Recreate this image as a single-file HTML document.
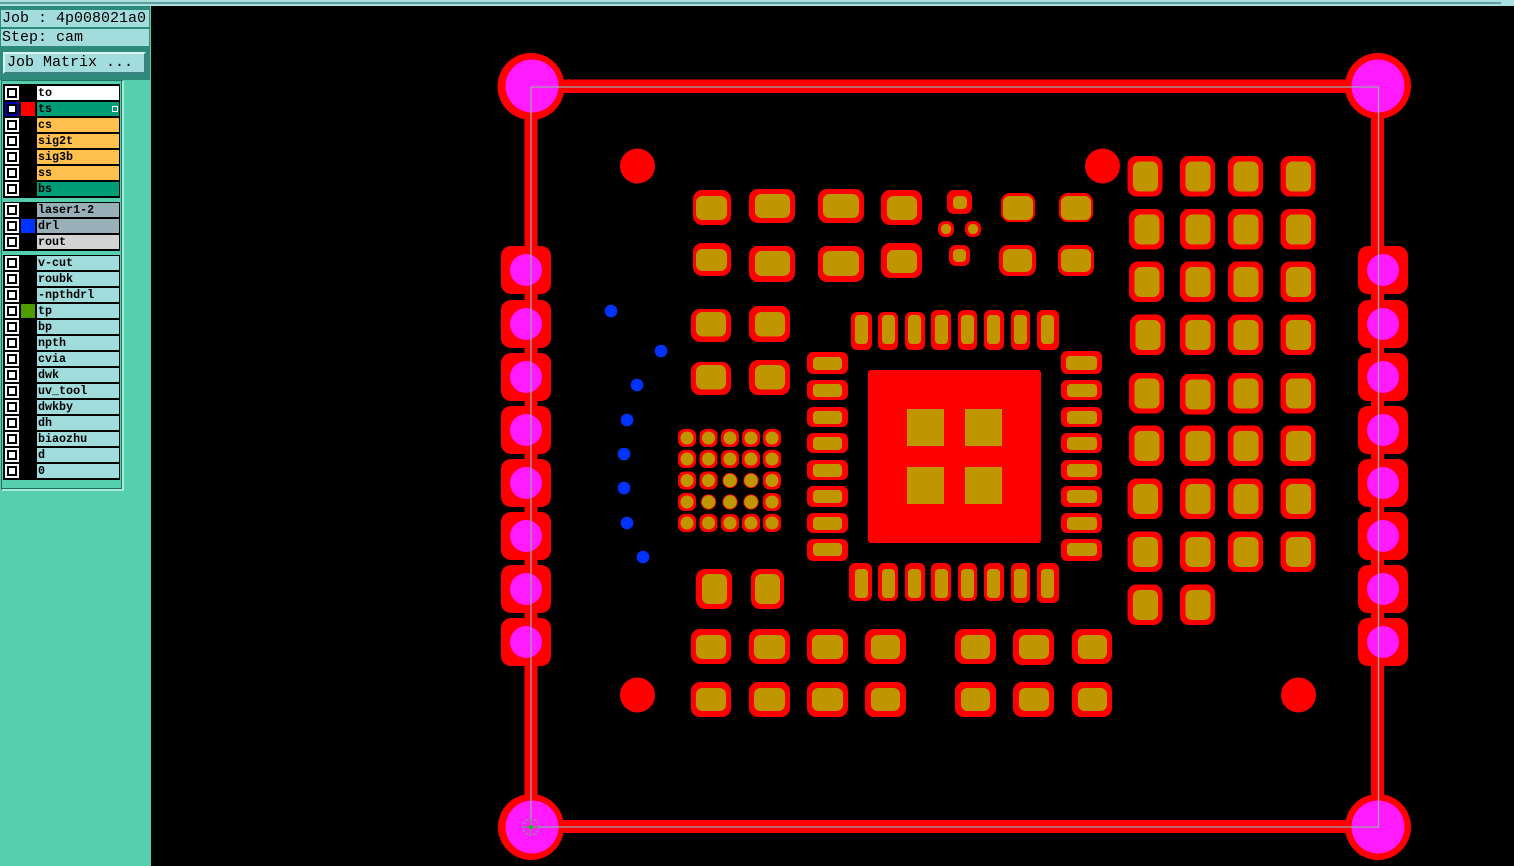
<!DOCTYPE html>
<html><head><meta charset="utf-8"><title>Job 4p008021a0</title>
<style>
html,body{margin:0;padding:0;width:1514px;height:866px;overflow:hidden;background:#000}
#left{position:absolute;left:0;top:0;width:151px;height:866px;background:#55cfae}
#topbar{position:absolute;left:0;top:0;width:1514px;height:6px;background:#a8e0e0}
#topbar div{position:absolute;left:0;top:2px;width:1501px;height:2px;background:#5f9c9c}
#head{position:absolute;left:0;top:6px;width:150px;height:74px;background:#2e8a7a}
.b{position:absolute;font:15px/17px "Liberation Mono",monospace;color:#000;background:#a3dcdc;white-space:pre;box-sizing:border-box}
#frame{position:absolute;left:1px;top:80px;width:123px;height:411px;background:#55cfae;border-top:1px solid #1f6e60;border-left:1px solid #1f6e60;border-right:2px solid #a8ecd8;border-bottom:2px solid #a8ecd8;box-shadow:inset -1px -1px 0 #1f6e60;box-sizing:border-box}
.g{position:absolute;left:3px;width:117px;background:#000}
.c{position:absolute;left:5px;width:14px;height:14px;background:#fff}
.c:after{content:"";position:absolute;left:2px;top:2px;width:6px;height:6px;border:2px solid #000;background:#fff}
.s{position:absolute;left:21px;width:14px;height:14px}
.l{position:absolute;left:37px;width:82px;height:14px;font:bold 11.7px/15px "Liberation Mono",monospace;color:#000;padding-left:1px;box-sizing:border-box;background:#a0dcdc;white-space:pre}
svg{position:absolute;left:0;top:0}
.o{fill:#f00;rx:9px}.i{fill:#bf9600;rx:6.5px}
.q .o{rx:6px}.q .i{rx:4px}
.s2 .o{rx:7px}.s2 .i{rx:4.5px}
.t .o{rx:3px}.t .i{rx:0}
</style></head><body>
<div id="left"></div>
<div id="topbar"><div></div></div>
<div id="head"></div>
<div class="b" style="left:1px;top:10px;width:148px;height:17px;padding-left:1px">Job : 4p008021a0</div>
<div class="b" style="left:1px;top:29px;width:148px;height:17px;padding-left:1px">Step: cam</div>
<div class="b" style="left:3px;top:52px;width:143px;height:22px;padding:0 0 0 2px;border:2px solid;border-color:#d8f4f4 #3f8080 #3f8080 #d8f4f4">Job Matrix ...</div>
<div id="frame"></div>
<div class="g" style="top:84px;height:114px"></div>
<div class="g" style="top:202px;height:49px"></div>
<div class="g" style="top:255px;height:225px"></div>

<div class="c" style="top:86px"></div><div class="l" style="top:86px;background:#fff">to</div>
<div class="c" style="top:102px;background:#0000b0"></div><div class="s" style="top:102px;background:#f00"></div><div class="l" style="top:102px;background:#009d77">ts</div>
<div style="position:absolute;left:112px;top:106px;width:4px;height:4px;border:1px solid #fff;background:#009d77"></div>
<div class="c" style="top:118px"></div><div class="l" style="top:118px;background:#ffc04d">cs</div>
<div class="c" style="top:134px"></div><div class="l" style="top:134px;background:#ffc04d">sig2t</div>
<div class="c" style="top:150px"></div><div class="l" style="top:150px;background:#ffc04d">sig3b</div>
<div class="c" style="top:166px"></div><div class="l" style="top:166px;background:#ffc04d">ss</div>
<div class="c" style="top:182px"></div><div class="l" style="top:182px;background:#009d77">bs</div>

<div class="c" style="top:203px"></div><div class="l" style="top:203px;background:#9ab0b8">laser1-2</div>
<div class="c" style="top:219px"></div><div class="s" style="top:219px;background:#0033ff"></div><div class="l" style="top:219px;background:#9ab0b8">drl</div>
<div class="c" style="top:235px"></div><div class="l" style="top:235px;background:#d3d3d3">rout</div>

<div class="c" style="top:256px"></div><div class="l" style="top:256px">v-cut</div>
<div class="c" style="top:272px"></div><div class="l" style="top:272px">roubk</div>
<div class="c" style="top:288px"></div><div class="l" style="top:288px">-npthdrl</div>
<div class="c" style="top:304px"></div><div class="s" style="top:304px;background:#4f9c00"></div><div class="l" style="top:304px">tp</div>
<div class="c" style="top:320px"></div><div class="l" style="top:320px">bp</div>
<div class="c" style="top:336px"></div><div class="l" style="top:336px">npth</div>
<div class="c" style="top:352px"></div><div class="l" style="top:352px">cvia</div>
<div class="c" style="top:368px"></div><div class="l" style="top:368px">dwk</div>
<div class="c" style="top:384px"></div><div class="l" style="top:384px">uv_tool</div>
<div class="c" style="top:400px"></div><div class="l" style="top:400px">dwkby</div>
<div class="c" style="top:416px"></div><div class="l" style="top:416px">dh</div>
<div class="c" style="top:432px"></div><div class="l" style="top:432px">biaozhu</div>
<div class="c" style="top:448px"></div><div class="l" style="top:448px">d</div>
<div class="c" style="top:464px"></div><div class="l" style="top:464px">0</div>

<svg width="1514" height="866" viewBox="0 0 1514 866" xmlns="http://www.w3.org/2000/svg">
<defs>
<g id="gp"><rect class="o" width="35" height="40.5"/><rect class="i" x="5.5" y="5.5" width="25" height="30"/></g>
<g id="sp"><rect class="o" x="-25" y="-24" width="50" height="48" style="rx:10px"/><circle cx="0" cy="0" r="16" fill="#ff1aff"/></g>
<g id="b1"><rect class="o" x="-9" y="-9" width="18" height="18" style="rx:6.5px"/><circle class="i" r="6.5"/></g>
<g id="b2"><circle class="o" r="7.6"/><circle class="i" r="6.8"/></g>
</defs>
<!-- frame -->
<rect class="o" x="531" y="79.5" width="847" height="13.5" style="rx:0"/>
<rect class="o" x="531" y="820" width="847" height="13" style="rx:0"/>
<rect class="o" x="524.5" y="86" width="13" height="741" style="rx:0"/>
<rect class="o" x="1371" y="86" width="13" height="741" style="rx:0"/>
<!-- side pads -->
<use href="#sp" x="526" y="270"/><use href="#sp" x="526" y="324"/><use href="#sp" x="526" y="377"/><use href="#sp" x="526" y="430"/><use href="#sp" x="526" y="483"/><use href="#sp" x="526" y="536"/><use href="#sp" x="526" y="589"/><use href="#sp" x="526" y="642"/>
<use href="#sp" x="1383" y="270"/><use href="#sp" x="1383" y="324"/><use href="#sp" x="1383" y="377"/><use href="#sp" x="1383" y="430"/><use href="#sp" x="1383" y="483"/><use href="#sp" x="1383" y="536"/><use href="#sp" x="1383" y="589"/><use href="#sp" x="1383" y="642"/>
<!-- corners -->
<circle class="o" cx="531" cy="86.5" r="33.5"/><circle cx="532" cy="86" r="26.5" fill="#ff1aff"/>
<circle class="o" cx="1378" cy="86" r="33"/><circle cx="1378" cy="86" r="26.5" fill="#ff1aff"/>
<circle class="o" cx="531" cy="827" r="33"/><circle cx="532" cy="827" r="26.5" fill="#ff1aff"/>
<circle class="o" cx="1378" cy="827" r="33"/><circle cx="1378" cy="827" r="26.5" fill="#ff1aff"/>
<!-- profile line -->
<rect x="531" y="87" width="847.5" height="740" fill="none" stroke="#a0a0a8" stroke-width="1.3"/>
<circle cx="531" cy="827" r="8" fill="none" stroke="#8a9a8a" stroke-width="1.5" stroke-dasharray="2 2"/>
<path d="M522 827h18M531 818v18" stroke="#6a9a6a" stroke-width="1"/><circle cx="531" cy="827" r="2" fill="#0c0"/>
<!-- fiducials -->
<circle class="o" cx="637.5" cy="166" r="17.5"/><circle class="o" cx="1102.5" cy="166" r="17.5"/><circle class="o" cx="637.5" cy="695" r="17.5"/><circle class="o" cx="1298.5" cy="695" r="17.5"/>
<!-- drills -->
<g fill="#0033ff"><circle cx="611" cy="311" r="6.3"/><circle cx="661" cy="351" r="6.3"/><circle cx="637" cy="385" r="6.3"/><circle cx="627" cy="420" r="6.3"/><circle cx="624" cy="454" r="6.3"/><circle cx="624" cy="488" r="6.3"/><circle cx="627" cy="523" r="6.3"/><circle cx="643" cy="557" r="6.3"/></g>
<!-- top group -->
<rect class="o" x="693" y="190" width="38" height="35"/><rect class="i" x="696" y="196" width="31" height="24"/>
<rect class="o" x="693" y="243" width="38" height="33"/><rect class="i" x="696" y="249" width="31" height="22"/>
<rect class="o" x="749" y="189" width="46" height="34"/><rect class="i" x="755" y="194" width="35" height="24"/>
<rect class="o" x="749" y="246" width="46" height="36"/><rect class="i" x="755" y="251" width="35" height="25"/>
<rect class="o" x="818" y="189" width="46" height="34"/><rect class="i" x="823" y="194" width="36" height="24"/>
<rect class="o" x="818" y="246" width="46" height="36"/><rect class="i" x="823" y="251" width="36" height="25"/>
<rect class="o" x="881" y="190" width="41" height="35"/><rect class="i" x="887" y="196" width="30" height="24"/>
<rect class="o" x="881" y="243" width="41" height="35"/><rect class="i" x="887" y="250" width="30" height="23"/>
<g class="s2">
<rect class="o" x="947" y="190" width="25" height="24"/><rect class="i" x="953" y="196" width="14" height="13"/>
<rect class="o" x="938" y="221" width="16" height="16"/><rect class="i" x="941" y="224" width="10" height="10"/>
<rect class="o" x="965" y="221" width="16" height="16"/><rect class="i" x="968" y="224" width="10" height="10"/>
<rect class="o" x="949" y="245" width="21" height="21"/><rect class="i" x="953" y="249" width="13" height="13"/>
</g>
<rect class="o" x="1001" y="193" width="34" height="29"/><rect class="i" x="1003" y="196" width="30" height="24"/>
<rect class="o" x="1059" y="193" width="34" height="29"/><rect class="i" x="1061" y="196" width="30" height="24"/>
<rect class="o" x="999" y="245" width="37" height="31"/><rect class="i" x="1003" y="249" width="29" height="23"/>
<rect class="o" x="1058" y="245" width="36" height="31"/><rect class="i" x="1061" y="249" width="30" height="23"/>
<!-- left mid pads -->
<rect class="o" x="691" y="309" width="40" height="33"/><rect class="i" x="696" y="312" width="30" height="24.500"/>
<rect class="o" x="749" y="306" width="41" height="36"/><rect class="i" x="755" y="312" width="30" height="24.500"/>
<rect class="o" x="691" y="362" width="40" height="33"/><rect class="i" x="696" y="365" width="30" height="24.500"/>
<rect class="o" x="749" y="360" width="41" height="35"/><rect class="i" x="755" y="365" width="30" height="24.500"/>
<!-- BGA -->
<use href="#b1" x="687" y="438"/><use href="#b1" x="708.500" y="438"/><use href="#b1" x="730" y="438"/><use href="#b1" x="751" y="438"/><use href="#b1" x="772" y="438"/>
<use href="#b1" x="687" y="459"/><use href="#b1" x="708.500" y="459"/><use href="#b1" x="730" y="459"/><use href="#b1" x="751" y="459"/><use href="#b1" x="772" y="459"/>
<use href="#b1" x="687" y="480.500"/><use href="#b1" x="708.500" y="480.500"/><use href="#b2" x="730" y="480.500"/><use href="#b2" x="751" y="480.500"/><use href="#b1" x="772" y="480.500"/>
<use href="#b1" x="687" y="502"/><use href="#b2" x="708.500" y="502"/><use href="#b2" x="730" y="502"/><use href="#b2" x="751" y="502"/><use href="#b1" x="772" y="502"/>
<use href="#b1" x="687" y="523"/><use href="#b1" x="708.500" y="523"/><use href="#b1" x="730" y="523"/><use href="#b1" x="751" y="523"/><use href="#b1" x="772" y="523"/>
<g class="q">
<!-- QFN top -->
<rect class="o" x="851" y="312" width="21" height="38"/><rect class="i" x="855" y="315" width="13" height="29"/>
<rect class="o" x="878" y="312" width="20" height="38"/><rect class="i" x="882" y="315" width="13" height="29"/>
<rect class="o" x="905" y="312" width="20" height="38"/><rect class="i" x="908" y="315" width="13" height="29"/>
<rect class="o" x="931" y="310" width="20" height="40"/><rect class="i" x="935" y="315" width="13" height="29"/>
<rect class="o" x="958" y="310" width="19" height="40"/><rect class="i" x="961" y="315" width="13" height="29"/>
<rect class="o" x="984" y="310" width="20" height="40"/><rect class="i" x="987" y="315" width="13" height="29"/>
<rect class="o" x="1011" y="310" width="19" height="40"/><rect class="i" x="1014" y="315" width="13" height="29"/>
<rect class="o" x="1037" y="310" width="22" height="40"/><rect class="i" x="1041" y="315" width="13" height="29"/>
<!-- QFN bottom -->
<rect class="o" x="849" y="563" width="23" height="38"/><rect class="i" x="855" y="569" width="13" height="29"/>
<rect class="o" x="878" y="563" width="20" height="38"/><rect class="i" x="882" y="569" width="13" height="29"/>
<rect class="o" x="905" y="563" width="20" height="38"/><rect class="i" x="908" y="569" width="13" height="29"/>
<rect class="o" x="931" y="563" width="20" height="38"/><rect class="i" x="935" y="569" width="13" height="29"/>
<rect class="o" x="958" y="563" width="19" height="38"/><rect class="i" x="961" y="569" width="13" height="29"/>
<rect class="o" x="984" y="563" width="20" height="38"/><rect class="i" x="987" y="569" width="13" height="29"/>
<rect class="o" x="1011" y="563" width="19" height="40"/><rect class="i" x="1014" y="569" width="13" height="29"/>
<rect class="o" x="1037" y="563" width="22" height="40"/><rect class="i" x="1041" y="569" width="13" height="29"/>
<!-- QFN left -->
<rect class="o" x="807" y="352" width="41" height="22"/><rect class="i" x="813" y="357" width="29" height="13"/>
<rect class="o" x="807" y="380" width="41" height="20"/><rect class="i" x="813" y="384" width="29" height="13"/>
<rect class="o" x="807" y="407" width="41" height="20"/><rect class="i" x="813" y="411" width="29" height="13"/>
<rect class="o" x="807" y="433" width="41" height="20"/><rect class="i" x="813" y="437" width="29" height="13"/>
<rect class="o" x="807" y="460" width="41" height="20"/><rect class="i" x="813" y="464" width="29" height="13"/>
<rect class="o" x="807" y="486" width="41" height="21"/><rect class="i" x="813" y="490" width="29" height="13"/>
<rect class="o" x="807" y="513" width="41" height="20"/><rect class="i" x="813" y="517" width="29" height="13"/>
<rect class="o" x="807" y="539" width="41" height="22"/><rect class="i" x="813" y="543" width="29" height="13"/>
<!-- QFN right -->
<rect class="o" x="1061" y="351" width="41" height="23"/><rect class="i" x="1066" y="356" width="31" height="14"/>
<rect class="o" x="1061" y="380" width="41" height="20"/><rect class="i" x="1067" y="384" width="30" height="13"/>
<rect class="o" x="1061" y="407" width="41" height="20"/><rect class="i" x="1067" y="411" width="30" height="13"/>
<rect class="o" x="1061" y="433" width="41" height="20"/><rect class="i" x="1067" y="437" width="30" height="13"/>
<rect class="o" x="1061" y="460" width="41" height="20"/><rect class="i" x="1067" y="464" width="30" height="13"/>
<rect class="o" x="1061" y="486" width="41" height="21"/><rect class="i" x="1067" y="490" width="30" height="13"/>
<rect class="o" x="1061" y="513" width="41" height="20"/><rect class="i" x="1067" y="517" width="30" height="13"/>
<rect class="o" x="1061" y="539" width="41" height="22"/><rect class="i" x="1067" y="543" width="30" height="13"/>
</g>
<!-- thermal pad -->
<g class="t">
<rect class="o" x="868" y="370" width="173" height="173"/>
<rect class="i" x="907" y="409" width="37" height="37"/><rect class="i" x="965" y="409" width="37" height="37"/><rect class="i" x="907" y="467" width="37" height="37"/><rect class="i" x="965" y="467" width="37" height="37"/>
</g>
<!-- lower pads -->
<rect class="o" x="696" y="569" width="36" height="40"/><rect class="i" x="702" y="574" width="25" height="30"/>
<rect class="o" x="751" y="569" width="33" height="40"/><rect class="i" x="755" y="574" width="25" height="30"/>
<rect class="o" x="691" y="629" width="40" height="35"/><rect class="i" x="696" y="635" width="30" height="24"/>
<rect class="o" x="749" y="629" width="41" height="35"/><rect class="i" x="754" y="635" width="31" height="24"/>
<rect class="o" x="807" y="629" width="41" height="35"/><rect class="i" x="812" y="635" width="31" height="24"/>
<rect class="o" x="865" y="629" width="41" height="35"/><rect class="i" x="871" y="635" width="29" height="24"/>
<rect class="o" x="955" y="629" width="41" height="35"/><rect class="i" x="961" y="635" width="29" height="24"/>
<rect class="o" x="1013" y="629" width="41" height="36"/><rect class="i" x="1019" y="635" width="30" height="24"/>
<rect class="o" x="1072" y="629" width="40" height="35"/><rect class="i" x="1078" y="635" width="29" height="24"/>
<rect class="o" x="691" y="682" width="40" height="35"/><rect class="i" x="696" y="688" width="30" height="23"/>
<rect class="o" x="749" y="682" width="41" height="35"/><rect class="i" x="754" y="688" width="31" height="23"/>
<rect class="o" x="807" y="682" width="41" height="35"/><rect class="i" x="812" y="688" width="31" height="23"/>
<rect class="o" x="865" y="682" width="41" height="35"/><rect class="i" x="871" y="688" width="29" height="23"/>
<rect class="o" x="955" y="682" width="41" height="35"/><rect class="i" x="961" y="688" width="29" height="23"/>
<rect class="o" x="1013" y="682" width="41" height="35"/><rect class="i" x="1019" y="688" width="30" height="23"/>
<rect class="o" x="1072" y="682" width="40" height="35"/><rect class="i" x="1078" y="688" width="29" height="23"/>
<!-- right grid -->
<use href="#gp" x="1127.500" y="156"/><use href="#gp" x="1180" y="156"/><use href="#gp" x="1228" y="156"/><use href="#gp" x="1280.500" y="156"/>
<use href="#gp" x="1129" y="209"/><use href="#gp" x="1180" y="209"/><use href="#gp" x="1228" y="209"/><use href="#gp" x="1280.500" y="209"/>
<use href="#gp" x="1129" y="261.500"/><use href="#gp" x="1180" y="261.500"/><use href="#gp" x="1228" y="261.500"/><use href="#gp" x="1280.500" y="261.500"/>
<use href="#gp" x="1130" y="314.500"/><use href="#gp" x="1180" y="314.500"/><use href="#gp" x="1228" y="314.500"/><use href="#gp" x="1280.500" y="314.500"/>
<use href="#gp" x="1129" y="373"/><use href="#gp" x="1180" y="374"/><use href="#gp" x="1228" y="373"/><use href="#gp" x="1280.500" y="373"/>
<use href="#gp" x="1129" y="425.500"/><use href="#gp" x="1180" y="425.500"/><use href="#gp" x="1228" y="425.500"/><use href="#gp" x="1280.500" y="425.500"/>
<use href="#gp" x="1127.500" y="478.500"/><use href="#gp" x="1180" y="478.500"/><use href="#gp" x="1228" y="478.500"/><use href="#gp" x="1280.500" y="478.500"/>
<use href="#gp" x="1127.500" y="531.500"/><use href="#gp" x="1180" y="531.500"/><use href="#gp" x="1228" y="531.500"/><use href="#gp" x="1280.500" y="531.500"/>
<use href="#gp" x="1127.500" y="584.500"/><use href="#gp" x="1180" y="584.500"/>
</svg>
</body></html>
